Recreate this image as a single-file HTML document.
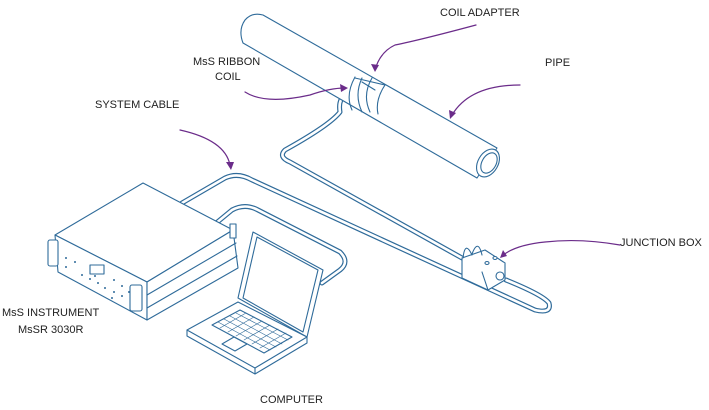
<!DOCTYPE html>
<html><head><meta charset="utf-8"><style>
html,body{margin:0;padding:0;background:#fff;}
svg{display:block;}
text{font-family:"Liberation Sans",sans-serif;font-size:11px;fill:#222;}
</style></head><body>
<svg width="709" height="410" viewBox="0 0 709 410" xmlns="http://www.w3.org/2000/svg">
<g fill="none" stroke-linecap="round" stroke-linejoin="round">
<g stroke="#2f6b9a" stroke-width="5">
 <path d="M182,203 L225,178 Q238,172 252,180 L535,310 Q552,314 549,303 Q543,295 506,280"/>
 <path d="M215,224 L232,210 Q245,203 258,210 L340,252 Q350,262 340,270 L322,283"/>
 <path d="M345,95 Q338,100 340,112 Q330,125 285,150 Q278,157 290,162 L462,258"/>
</g>
<g stroke="#fff" stroke-width="2.6">
 <path d="M182,203 L225,178 Q238,172 252,180 L535,310 Q552,314 549,303 Q543,295 506,280"/>
 <path d="M215,224 L232,210 Q245,203 258,210 L340,252 Q350,262 340,270 L322,283"/>
 <path d="M345,95 Q338,100 340,112 Q330,125 285,150 Q278,157 290,162 L462,258"/>
</g>
<g stroke="#2f6b9a" stroke-width="1.1" fill="#fff">
 <path d="M263,15 L497,148 L477,178 L243,43 Q238,30 245,20 Q252,12 263,15 Z"/>
 <ellipse cx="488" cy="163" rx="10" ry="15" transform="rotate(30 488 163)"/>
 <ellipse cx="489" cy="163" rx="7" ry="11" transform="rotate(30 489 163)"/>
 <path d="M355,77 Q345,95 352,110 M362,78 Q354,95 362,112 M372,78 Q362,95 370,112 M385,85 Q375,100 378,114 M355,78 L385,85 M362,82 L375,90" fill="none"/>
 <path d="M462,258 L485,250 L505,263 L482,272 Z"/>
 <path d="M462,258 L462,278 L488,290 L505,280 L505,263"/>
 <path d="M482,272 L488,290" fill="none"/>
 <path d="M463,258 Q465,240 472,255 M472,254 Q478,238 482,255" fill="none"/>
 <circle cx="500" cy="276" r="4"/>
 <ellipse cx="487" cy="263" rx="2" ry="1.5"/><ellipse cx="495" cy="258" rx="2" ry="1.5"/>
 <path d="M55,235 L143,183 L233,230 L147,282 Z"/>
 <path d="M55,235 L147,282 L147,320 L58,272 Z"/>
 <path d="M147,282 L233,230 L238,268 L147,320 Z"/>
 <path d="M147,295 L236,243 M147,308 L237,256" fill="none"/>
 <rect x="48" y="240" width="10" height="26" rx="2"/>
 <rect x="130" y="285" width="12" height="26" rx="2"/>
 <rect x="230" y="224" width="6" height="14"/>
 <rect x="90" y="265" width="14" height="9"/>
 <path d="M253,232 L323,270 L307,337 L238,298 Z"/>
 <path d="M257,237 L318,270 L303,332 L243,298 Z"/>
 <path d="M187,330 L238,302 L307,337 L255,368 Z"/>
 <path d="M187,330 L187,336 L255,374 L307,343 L307,337 M255,368 L255,374" fill="none"/>
 <path d="M212,325 L240,310 L292,337 L264,353 Z" />
 <path d="M222,344 L234,337 L247,344 L235,351 Z"/>
</g>
<g stroke="#2f6b9a" stroke-width="0.6">
 <path d="M218,322 L270,350 M224,319 L276,347 M230,316 L282,344 M236,313 L288,340 M220,328 L246,313 M228,332 L254,317 M236,336 L262,321 M244,340 L270,325 M252,344 L278,329 M260,348 L286,333"/>
</g>
<g fill="#2f6b9a">
 <circle cx="66" cy="258" r="1"/><circle cx="75" cy="262" r="1"/><circle cx="66" cy="267" r="1"/><circle cx="82" cy="275" r="1"/><circle cx="90" cy="279" r="1"/><circle cx="98" cy="283" r="1"/><circle cx="105" cy="288" r="1"/><circle cx="114" cy="280" r="1"/><circle cx="114" cy="292" r="1"/><circle cx="122" cy="286" r="1"/><circle cx="122" cy="296" r="1"/><circle cx="129" cy="292" r="1"/><circle cx="95" cy="276" r="1"/><circle cx="112" cy="298" r="1"/>
</g>
<g stroke="#6b2c8a" stroke-width="1.2">
 <path d="M476,25 Q420,40 395,45 Q380,52 375,70"/>
 <path d="M245,92 Q265,105 310,95 Q330,88 345,88"/>
 <path d="M520,85 Q470,85 452,115"/>
 <path d="M180,130 Q225,140 230,165"/>
 <path d="M620,245 Q580,238 545,242 Q515,245 502,256"/>
</g>
<g fill="#6b2c8a">
 <path d="M375,72 L371,64 L379,65 Z"/>
 <path d="M348,88 L340,84 L341,92 Z"/>
 <path d="M450,119 L449,110 L456,113 Z"/>
 <path d="M231,170 L226,162 L234,162 Z"/>
 <path d="M500,258 L503,250 L507,256 Z"/>
</g>
</g>
<text x="440" y="16">COIL ADAPTER</text>
<text x="545" y="66">PIPE</text>
<text x="193" y="65">MsS RIBBON</text>
<text x="215" y="80">COIL</text>
<text x="95" y="108">SYSTEM CABLE</text>
<text x="620" y="246">JUNCTION BOX</text>
<text x="2" y="316">MsS INSTRUMENT</text>
<text x="18" y="333">MsSR 3030R</text>
<text x="260" y="403">COMPUTER</text>
</svg>
</body></html>
